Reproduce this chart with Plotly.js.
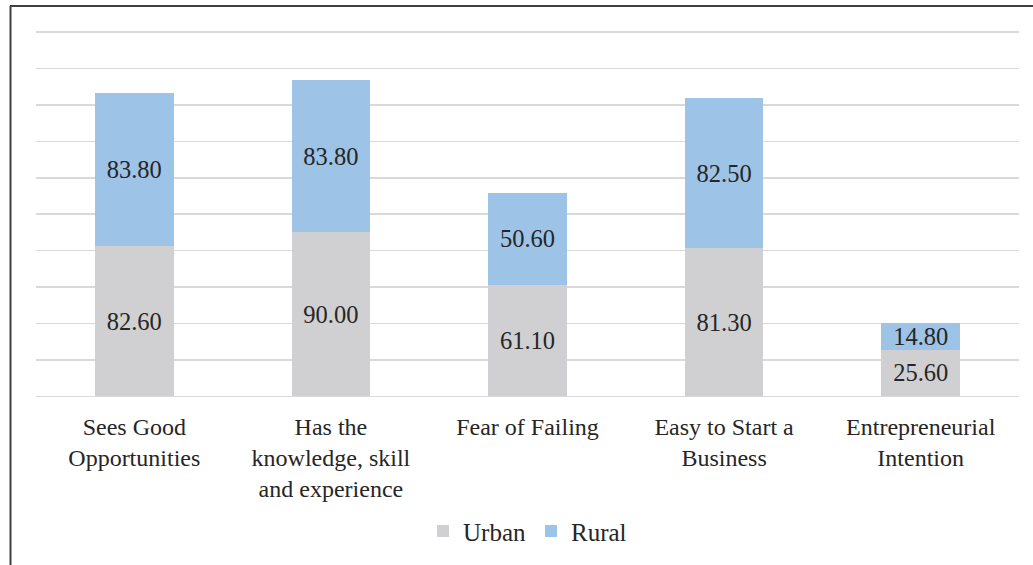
<!DOCTYPE html>
<html>
<head>
<meta charset="utf-8">
<script src="https://cdn.plot.ly/plotly-3.0.1.min.js"></script>
<style>
  html, body { margin: 0; padding: 0; background: #fff; }
  #chart { width: 1033px; height: 565px; }
</style>
</head>
<body>
<div id="chart"></div>
<script>
const categories = [
  "Sees Good<br>Opportunities",
  "Has the<br>knowledge, skill<br>and experience",
  "Fear of Failing",
  "Easy to Start a<br>Business",
  "Entrepreneurial<br>Intention"
];
const urbanValues = [82.6, 90.0, 61.1, 81.3, 25.6];
const ruralValues = [83.8, 83.8, 50.6, 82.5, 14.8];
const seriesNames = ["Urban", "Rural"];

const fontFamily = "Liberation Serif, Times New Roman, serif";
const textColor = "#262626";

const traces = [
  {
    type: "bar",
    name: seriesNames[0],
    x: categories,
    y: urbanValues,
    marker: { color: "#D0D0D2" },
    text: urbanValues.map(v => v.toFixed(2)),
    textposition: "inside",
    insidetextanchor: "middle",
    constraintext: "none",
    textangle: 0,
    textfont: { family: fontFamily, size: 24.5, color: textColor },
    hoverinfo: "skip"
  },
  {
    type: "bar",
    name: seriesNames[1],
    x: categories,
    y: ruralValues,
    marker: { color: "#9DC3E6" },
    text: ruralValues.map(v => v.toFixed(2)),
    textposition: "inside",
    insidetextanchor: "middle",
    constraintext: "none",
    textangle: 0,
    textfont: { family: fontFamily, size: 24.5, color: textColor },
    hoverinfo: "skip"
  }
];

const layout = {
  width: 1033,
  height: 565,
  barmode: "stack",
  bargap: 0.6,
  margin: { l: 36, r: 14, t: 23, b: 166.3, autoexpand: false },
  paper_bgcolor: "#ffffff",
  plot_bgcolor: "#ffffff",
  font: { family: fontFamily, color: textColor, size: 24 },
  xaxis: {
    type: "category",
    showgrid: false,
    zeroline: false,
    showline: false,
    ticks: "",
    ticklabelstandoff: 11,
    tickfont: { family: fontFamily, size: 24, color: textColor },
    automargin: false
  },
  yaxis: {
    range: [-1.5, 205],
    tick0: 0,
    dtick: 20,
    showgrid: true,
    gridcolor: "#D9D9D9",
    gridwidth: 1.5,
    zeroline: false,
    showline: false,
    showticklabels: false,
    ticks: "",
    automargin: false,
    fixedrange: true
  },
  legend: {
    orientation: "h",
    x: 0.5,
    xanchor: "center",
    y: -0.352,
    yanchor: "middle",
    font: { family: fontFamily, size: 25, color: textColor },
    itemwidth: 30,
    traceorder: "normal"
  },
  showlegend: true,
  shapes: [
    {
      type: "line", xref: "paper", yref: "paper",
      x0: -25.5 / 983, x1: -25.5 / 983,
      y0: 1.045, y1: -0.5,
      line: { color: "#404040", width: 2 }
    },
    {
      type: "line", xref: "paper", yref: "paper",
      x0: -26 / 983, x1: 1010 / 983,
      y0: 1.045, y1: 1.045,
      line: { color: "#404040", width: 2 }
    }
  ]
};

Plotly.newPlot("chart", traces, layout, { displayModeBar: false, staticPlot: true });
</script>
</body>
</html>
